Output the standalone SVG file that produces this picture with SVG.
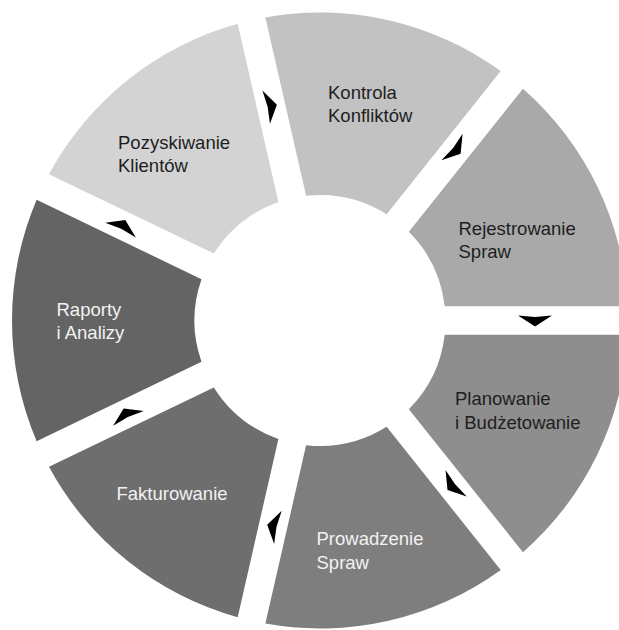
<svg xmlns="http://www.w3.org/2000/svg" width="619" height="630" viewBox="0 0 619 630">
<defs>
<style>
.lbl{font-family:"Liberation Sans",Arial,sans-serif;font-size:18.5px}
.dk{fill:#1e1e1e}
.lt{fill:#f2f2f2}
</style>
<path id="arrow" d="M 6,0 L -5,-17 L -3.5,0 L -5,17 Z" fill="#000"/>
</defs>
<rect width="619" height="630" fill="#fff"/>
<g id="pozyskiwanie">
<path d="M 48.96,174.21 A 308 308 0 0 1 237.69,23.70 L 278.41,202.09 A 125.5 125.5 0 0 0 213.82,253.60 Z" fill="#d3d3d3"/>
<text class="lbl dk" x="118" y="149">Pozyskiwanie</text>
<text class="lbl dk" x="118" y="171.5">Klientów</text>
</g>
<g id="kontrola">
<path d="M 265.38,17.38 A 308 308 0 0 1 500.73,71.10 L 386.64,214.16 A 125.5 125.5 0 0 0 306.10,195.77 Z" fill="#c2c2c2"/>
<text class="lbl dk" x="328" y="99">Kontrola</text>
<text class="lbl dk" x="328" y="122">Konfliktów</text>
</g>
<g id="rejestrowanie">
<path d="M 522.93,88.81 A 308 308 0 0 1 627.67,306.3 L 444.69,306.3 A 125.5 125.5 0 0 0 408.85,231.87 Z" fill="#a9a9a9"/>
<text class="lbl dk" x="458.5" y="235">Rejestrowanie</text>
<text class="lbl dk" x="458.5" y="258">Spraw</text>
</g>
<g id="planowanie">
<path d="M 627.67,334.7 A 308 308 0 0 1 522.93,552.19 L 408.85,409.14 A 125.5 125.5 0 0 0 444.69,334.7 Z" fill="#8e8e8e"/>
<text class="lbl dk" x="455" y="405">Planowanie</text>
<text class="lbl dk" x="455" y="428.5">i Budżetowanie</text>
</g>
<g id="prowadzenie">
<path d="M 500.73,569.90 A 308 308 0 0 1 265.38,623.62 L 306.10,445.23 A 125.5 125.5 0 0 0 386.64,426.84 Z" fill="#7e7e7e"/>
<text class="lbl lt" x="316.5" y="545">Prowadzenie</text>
<text class="lbl lt" x="316.5" y="569">Spraw</text>
</g>
<g id="fakturowanie">
<path d="M 237.69,617.30 A 308 308 0 0 1 48.96,466.79 L 213.82,387.40 A 125.5 125.5 0 0 0 278.41,438.91 Z" fill="#6e6e6e"/>
<text class="lbl lt" x="116.5" y="500">Fakturowanie</text>
</g>
<g id="raporty">
<path d="M 36.64,441.20 A 308 308 0 0 1 36.64,199.80 L 201.49,279.19 A 125.5 125.5 0 0 0 201.49,361.81 Z" fill="#646464"/>
<text class="lbl lt" x="56.5" y="315.5">Raporty</text>
<text class="lbl lt" x="56.5" y="339">i Analizy</text>
</g>
<g id="connectors">
<use href="#arrow" transform="translate(535,320.5) rotate(90)"/>
<use href="#arrow" transform="translate(452.2,486.3) rotate(141.43)"/>
<use href="#arrow" transform="translate(273.05,526.2) rotate(192.86)"/>
<use href="#arrow" transform="translate(126.3,413.8) rotate(244.29)"/>
<use href="#arrow" transform="translate(122.7,225.5) rotate(295.71)"/>
<use href="#arrow" transform="translate(271.05,106) rotate(347.14)"/>
<use href="#arrow" transform="translate(455.9,150.1) rotate(38.57)"/>
</g>
</svg>
